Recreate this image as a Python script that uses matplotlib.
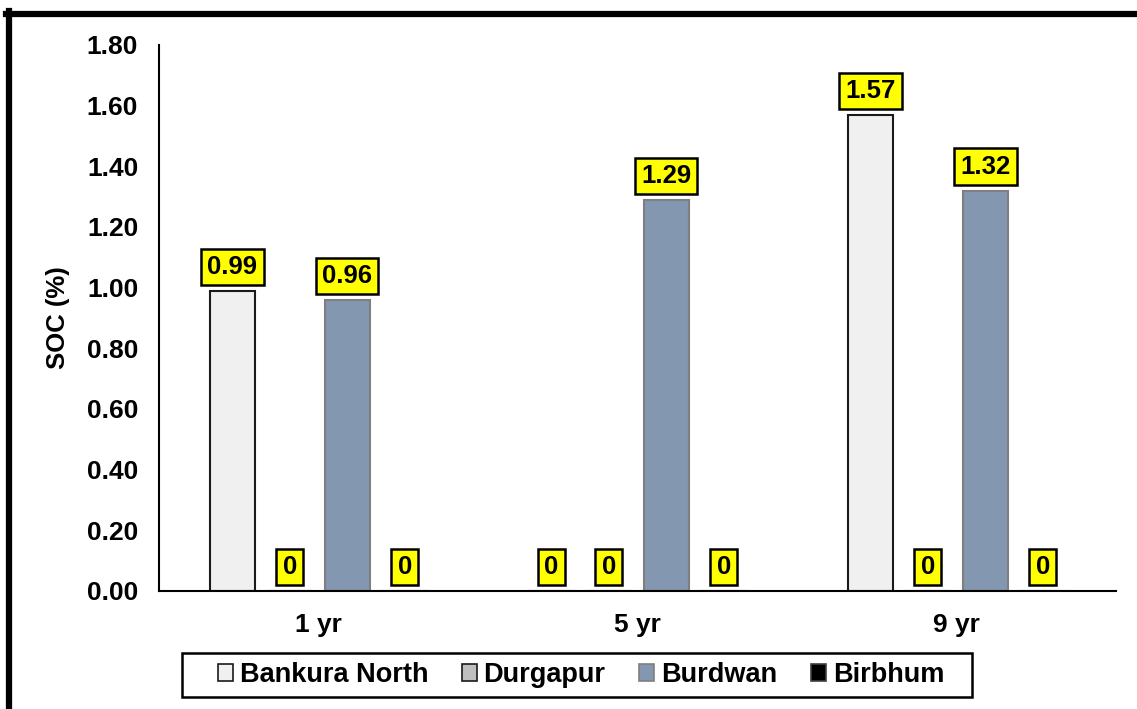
import matplotlib.pyplot as plt
import numpy as np
from matplotlib.lines import Line2D
from matplotlib.patches import Rectangle

plt.rcParams['font.family'] = ['Liberation Sans', 'DejaVu Sans']
plt.rcParams['font.weight'] = 'bold'

# data
years = ['1 yr', '5 yr', '9 yr']
sites = ['Bankura North', 'Durgapur', 'Burdwan', 'Birbhum']
bankura = [0.99, 0, 1.57]
durgapur = [0, 0, 0]
burdwan = [0.96, 1.29, 1.32]
birbhum = [0, 0, 0]

colors = ['#F0F0F0', '#BFBFBF', '#8497B0', '#000000']
edges = ['#1a1a1a', '#1a1a1a', '#7f7f7f', '#404040']

fig = plt.figure(figsize=(11.37, 7.09), dpi=100)
ax = fig.add_axes([159/1137, 1-591/709, (1116-159)/1137, (591-45)/709])

x = np.arange(len(years))
step = 0.18
w = 0.141
for i, vals in enumerate([bankura, durgapur, burdwan, birbhum]):
    pos = x + (i - 1.5) * step
    ax.bar(pos, vals, w, color=colors[i], edgecolor=edges[i], linewidth=1.5, label=sites[i])
    for p, v in zip(pos, vals):
        lab = '0' if v == 0 else f'{v:.2f}'
        ax.annotate(lab, (p, v), xytext=(0, 24), textcoords='offset pixels',
                    ha='center', va='center', fontsize=18.5, fontweight='bold',
                    bbox=dict(boxstyle='square,pad=0.24', fc='#FFFF00', ec='black', lw=1.8))

ax.set_xlim(-0.5, 2.5)
ax.set_ylim(0, 1.8)
ax.set_yticks(np.arange(0, 1.81, 0.2))
ax.set_yticklabels([f'{t:.2f}' for t in np.arange(0, 1.81, 0.2)])
ax.set_xticks(x)
ax.set_xticklabels(years)
ax.tick_params(axis='both', length=0, labelsize=19)
ax.tick_params(axis='y', pad=15)
ax.tick_params(axis='x', pad=16)
for s in ['top', 'right']:
    ax.spines[s].set_visible(False)
ax.spines['left'].set_linewidth(1.5)
ax.spines['bottom'].set_linewidth(1.5)
ax.set_ylabel('SOC (%)', fontsize=18.5, fontweight='bold', labelpad=12)

leg = fig.legend(loc='center', bbox_to_anchor=(581/1137, 1-675/709), ncol=4,
                 fontsize=19.5, frameon=False,
                 handlelength=0.55, handleheight=0.55, handletextpad=0.25,
                 columnspacing=1.25, borderpad=0.3)
for t in leg.get_texts():
    t.set_fontweight('bold')
for h in leg.legend_handles:
    h.set_linewidth(1.2)
# legend frame box
fig.add_artist(Rectangle((182/1137, 1-697/709), (972-182)/1137, 44/709, fill=False,
                         ec='black', lw=1.8, transform=fig.transFigure))

# thick frame on top and left edges
fig.add_artist(Line2D([6/1137, 1], [1-14/709, 1-14/709], color='black', lw=4.5, transform=fig.transFigure))
fig.add_artist(Line2D([9/1137, 9/1137], [0, 1-11/709], color='black', lw=4.5, transform=fig.transFigure))

fig.savefig('out.png', dpi=100)
